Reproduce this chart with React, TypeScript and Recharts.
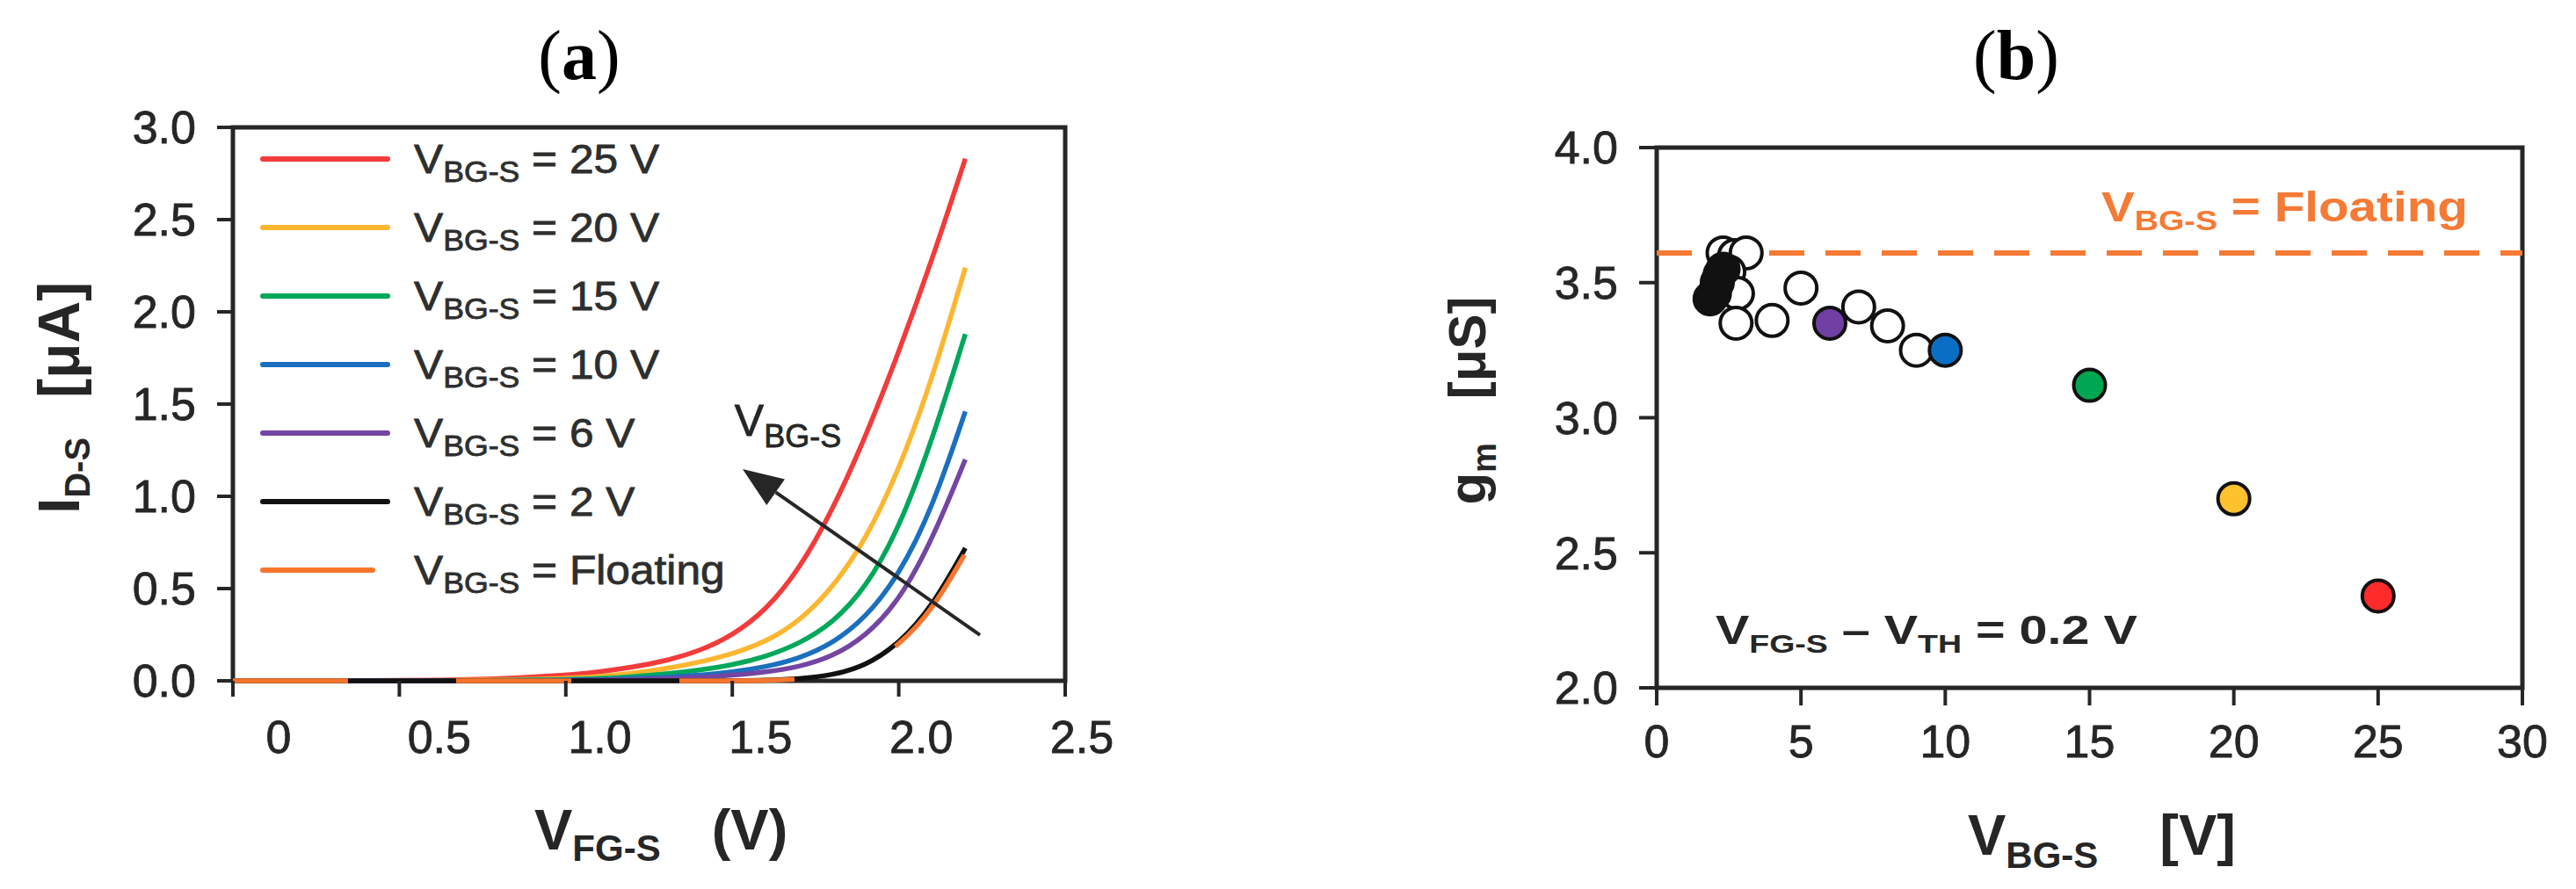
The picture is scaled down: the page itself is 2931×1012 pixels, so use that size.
import React from 'react';
import {
  LineChart,
  Line,
  XAxis,
  YAxis,
  ReferenceArea,
  ReferenceLine,
  ReferenceDot,
  Legend,
  ScatterChart,
  Scatter,
} from 'recharts';

const SANS = '"Liberation Sans", Arial, Helvetica, sans-serif';
const SERIF = '"Liberation Serif", "Times New Roman", serif';
const INK = '#262626';

// ---- panel (a): transfer curves, I_D-S vs V_FG-S ----
const vfg = [0, 0.2, 0.4, 0.6, 0.8, 1.0, 1.1, 1.2, 1.3, 1.4, 1.5, 1.6, 1.7, 1.8, 1.9, 2.0, 2.1, 2.2];
const ids25 = [0, 0, 0.001, 0.003, 0.01, 0.03, 0.048, 0.073, 0.108, 0.16, 0.245, 0.38, 0.6, 0.92, 1.32, 1.78, 2.28, 2.83];
const ids20 = [0, 0, 0, 0.001, 0.004, 0.012, 0.022, 0.04, 0.065, 0.1, 0.145, 0.21, 0.32, 0.5, 0.76, 1.14, 1.63, 2.24];
const ids15 = [0, 0, 0, 0, 0.002, 0.006, 0.012, 0.022, 0.037, 0.057, 0.085, 0.13, 0.2, 0.31, 0.5, 0.82, 1.3, 1.88];
const ids10 = [0, 0, 0, 0, 0.001, 0.003, 0.006, 0.011, 0.019, 0.03, 0.047, 0.075, 0.12, 0.2, 0.34, 0.57, 0.93, 1.46];
const ids6 = [0, 0, 0, 0, 0, 0.001, 0.003, 0.006, 0.011, 0.018, 0.03, 0.047, 0.075, 0.13, 0.24, 0.43, 0.76, 1.2];
const ids2 = [0, 0, 0, 0, 0, 0, 0, 0, 0, 0, 0, 0.002, 0.01, 0.03, 0.08, 0.2, 0.4, 0.72];
const idsFloat = [0, 0, 0, 0, 0, 0, 0, 0, 0, 0, 0, 0.001, 0.008, 0.026, 0.074, 0.19, 0.38, 0.69];

const curveKeys = ['b25', 'b20', 'b15', 'b10', 'b6', 'b2', 'bf'];
const curveNames = ['25 V', '20 V', '15 V', '10 V', '6 V', '2 V', 'Floating'];
const curveColors = ['#F23B3B', '#FDB630', '#00A85A', '#1B6FBF', '#7445A3', '#111111', '#F7762D'];
const curveValues = [ids25, ids20, ids15, ids10, ids6, ids2, idsFloat];

const xTicksA = [0, 0.5, 1, 1.5, 2, 2.5];
const yTicksA = [0, 0.5, 1, 1.5, 2, 2.5, 3];

// arrow "V_BG-S increases": tail -> head
const arrowA = [
  { x: 2.244, y: 0.248 },
  { x: 1.531, y: 1.148 },
];

// ---- panel (b): g_m vs V_BG-S ----
const openX = [2.3, 2.7, 3.1, 2.2, 2.5, 2.8, 2.75, 4.0, 5.0, 7.0, 8.0, 9.0];
const openY = [3.61, 3.6, 3.61, 3.53, 3.54, 3.46, 3.35, 3.36, 3.48, 3.41, 3.34, 3.25];
const blackX = [1.85, 2.0, 2.1, 2.3];
const blackY = [3.44, 3.46, 3.5, 3.55];
const colorX = [6, 10, 15, 20, 25];
const colorY = [3.35, 3.25, 3.12, 2.7, 2.34];
const pointColors = ['#6F3FA3', '#0A6FC4', '#00A651', '#FFC12E', '#FF2B2B'];
const gmFloating = 3.61;

const xTicksB = [0, 5, 10, 15, 20, 25, 30];
const yTicksB = [2, 2.5, 3, 3.5, 4];

const dataA = vfg.map((v, i) => {
  const row: Record<string, number> = { v };
  curveKeys.forEach((k, j) => {
    row[k] = curveValues[j][i];
  });
  return row;
});
const openPts = openX.map((x, i) => ({ x, y: openY[i] }));
const blackPts = blackX.map((x, i) => ({ x, y: blackY[i] }));
const colorPts = colorX.map((x, i) => ({ x, y: colorY[i] }));

type Part = [string, boolean?, number?];

function RichText({
  x,
  y,
  parts,
  size,
  subSize,
  subDy,
  weight = 'normal',
  fill = INK,
  scaleX = 1,
  rotate = 0,
  anchor = 'start',
}: {
  x: number;
  y: number;
  parts: Part[];
  size: number;
  subSize: number;
  subDy: number;
  weight?: string;
  fill?: string;
  scaleX?: number;
  rotate?: number;
  anchor?: 'start' | 'middle' | 'end';
}) {
  let down = false;
  const spans = parts.map(([t, isSub, dx], i) => {
    let dy = 0;
    if (isSub && !down) {
      dy = subDy;
      down = true;
    } else if (!isSub && down) {
      dy = -subDy;
      down = false;
    }
    return (
      <tspan key={i} dy={dy || undefined} dx={dx} fontSize={isSub ? subSize : size}>
        {t}
      </tspan>
    );
  });
  return (
    <g transform={`translate(${x},${y}) rotate(${rotate}) scale(${scaleX},1)`}>
      <text
        x={0}
        y={0}
        fontFamily={SANS}
        fontWeight={weight}
        fill={fill}
        stroke={weight === 'bold' ? 'none' : fill}
        strokeWidth={0.8}
        textAnchor={anchor}
        style={{ whiteSpace: 'pre' }}
      >
        {spans}
      </text>
    </g>
  );
}

function ArrowShape(props: any) {
  const { x1, y1, x2, y2 } = props;
  const dx = x2 - x1;
  const dy = y2 - y1;
  const len = Math.sqrt(dx * dx + dy * dy) || 1;
  const ux = dx / len;
  const uy = dy / len;
  const headL = 46;
  const headW = 18;
  const bx = x2 - ux * headL;
  const by = y2 - uy * headL;
  return (
    <g>
      <line x1={x1} y1={y1} x2={bx} y2={by} stroke={INK} strokeWidth={4} />
      <polygon
        points={`${x2},${y2} ${bx - uy * headW},${by + ux * headW} ${bx + uy * headW},${by - ux * headW}`}
        fill={INK}
      />
    </g>
  );
}

function LegendA({ payload }: any) {
  const items = [...(payload || [])].sort(
    (a: any, b: any) => curveNames.indexOf(a.value) - curveNames.indexOf(b.value),
  );
  return (
    <div style={{ fontFamily: SANS, color: '#2e2e2e', lineHeight: 1, WebkitTextStroke: '0.8px #2e2e2e' }}>
      {items.map((e: any) => (
        <div key={e.value} style={{ display: 'flex', alignItems: 'center', height: 78 }}>
          <div style={{ width: 175, display: 'flex', alignItems: 'center' }}>
            <div
              style={{
                width: e.value === 'Floating' ? 131 : 148,
                height: 6,
                borderRadius: 3,
                background: e.color,
              }}
            />
          </div>
          <span
            style={{
              fontSize: 46,
              whiteSpace: 'pre',
              display: 'inline-block',
              transform: 'scaleX(1.08)',
              transformOrigin: 'left center',
            }}
          >
            V
            <span style={{ fontSize: 33, position: 'relative', top: 10 }}>BG-S</span>
            {' = ' + e.value}
          </span>
        </div>
      ))}
    </div>
  );
}

const tickXA = (props: any) => {
  const { x, y, payload } = props;
  const v = payload.value as number;
  return (
    <text
      x={x + 52 - 13.2 * v}
      y={y}
      dy="0.71em"
      textAnchor="middle"
      fontSize={52}
      fill={INK}
      stroke={INK}
      strokeWidth={0.8}
      fontFamily={SANS}
    >
      {v === 0 ? '0' : v.toFixed(1)}
    </text>
  );
};

const tickStyle = { fontSize: 52, fill: INK, stroke: INK, strokeWidth: 0.8, fontFamily: SANS };

function ChartA() {
  return (
    <LineChart width={1300} height={1012} data={dataA} margin={{ top: 145, right: 88, bottom: 157, left: 165 }}>
      <ReferenceArea x1={0} x2={2.5} y1={0} y2={3} fill="none" stroke={INK} strokeWidth={5} ifOverflow="visible" />
      <XAxis
        dataKey="v"
        type="number"
        domain={[0, 2.5]}
        ticks={xTicksA}
        height={80}
        axisLine={false}
        tickLine={{ stroke: INK, strokeWidth: 4 }}
        tickSize={18}
        tickMargin={27}
        tick={tickXA}
        label={() => (
          <RichText
            x={608}
            y={967}
            parts={[['V'], ['FG-S', true], ['(V)', false, 58]]}
            size={65}
            subSize={42}
            subDy={13}
            weight="bold"
          />
        )}
      />
      <YAxis
        type="number"
        domain={[0, 3]}
        ticks={yTicksA}
        width={100}
        axisLine={false}
        tickLine={{ stroke: INK, strokeWidth: 4 }}
        tickSize={18}
        tickMargin={24}
        tick={tickStyle}
        tickFormatter={(v: number) => v.toFixed(1)}
        label={() => (
          <RichText
            x={90}
            y={453}
            rotate={-90}
            anchor="middle"
            parts={[['I'], ['D-S', true], ['[μA]', false, 45]]}
            size={66}
            subSize={40}
            subDy={12}
            weight="bold"
          />
        )}
      />
      <Legend
        layout="vertical"
        align="center"
        verticalAlign="middle"
        content={<LegendA />}
        wrapperStyle={{ position: 'absolute', left: 296, top: 142, width: 560, height: 546 }}
      />
      {curveKeys.map((k, i) => (
        <Line
          key={k}
          dataKey={k}
          name={curveNames[i]}
          type="basis"
          stroke={curveColors[i]}
          strokeWidth={5.5}
          strokeDasharray={k === 'bf' ? '131 123' : undefined}
          dot={false}
          activeDot={false}
          isAnimationActive={false}
        />
      ))}
      <ReferenceLine segment={arrowA} shape={ArrowShape} ifOverflow="visible" />
      <ReferenceDot
        x={1.507}
        y={1.329}
        ifOverflow="visible"
        shape={(p: any) => (
          <RichText x={p.cx} y={p.cy} parts={[['V'], ['BG-S', true]]} size={50} subSize={36} subDy={13} />
        )}
      />
    </LineChart>
  );
}

const dotShape = (fill: string) => (p: any) =>
  <circle cx={p.cx} cy={p.cy} r={18} fill={fill} stroke="#111" strokeWidth={4} />;

function ChartB() {
  return (
    <ScatterChart width={1531} height={1012} margin={{ top: 168, right: 61, bottom: 149, left: 385 }}>
      <ReferenceArea x1={0} x2={30} y1={2} y2={4} fill="none" stroke={INK} strokeWidth={5} ifOverflow="visible" />
      <XAxis
        dataKey="x"
        type="number"
        domain={[0, 30]}
        ticks={xTicksB}
        height={80}
        axisLine={false}
        tickLine={{ stroke: INK, strokeWidth: 4 }}
        tickSize={20}
        tickMargin={22}
        tick={tickStyle}
        label={() => (
          <RichText
            x={2239 - 1400}
            y={973}
            parts={[['V'], ['BG-S', true], ['[V]', false, 70]]}
            size={65}
            subSize={42}
            subDy={15}
            weight="bold"
          />
        )}
      />
      <YAxis
        dataKey="y"
        type="number"
        domain={[2, 4]}
        ticks={yTicksB}
        width={100}
        axisLine={false}
        tickLine={{ stroke: INK, strokeWidth: 4 }}
        tickSize={20}
        tickMargin={24}
        tick={tickStyle}
        tickFormatter={(v: number) => v.toFixed(1)}
        label={() => (
          <RichText
            x={1690 - 1400}
            y={456}
            rotate={-90}
            anchor="middle"
            parts={[['g'], ['m', true], ['[μS]', false, 50]]}
            size={60}
            subSize={38}
            subDy={12}
            weight="bold"
          />
        )}
      />
      <ReferenceLine y={gmFloating} stroke="#F47A35" strokeWidth={6} strokeDasharray="40 24" />
      <ReferenceDot
        x={15.41}
        y={3.727}
        ifOverflow="visible"
        shape={(p: any) => (
          <RichText
            x={p.cx}
            y={p.cy}
            parts={[['V'], ['BG-S', true], [' = Floating']]}
            size={48}
            subSize={32}
            subDy={10}
            weight="bold"
            fill="#F47A35"
            scaleX={1.18}
          />
        )}
      />
      <ReferenceDot
        x={2.04}
        y={2.163}
        ifOverflow="visible"
        shape={(p: any) => (
          <RichText
            x={p.cx}
            y={p.cy}
            parts={[['V'], ['FG-S', true], [' – V'], ['TH', true], [' = 0.2 V']]}
            size={46}
            subSize={30}
            subDy={10}
            weight="bold"
            scaleX={1.25}
          />
        )}
      />
      <Scatter data={openPts} shape={dotShape('#fff')} isAnimationActive={false} />
      <Scatter data={blackPts} shape={dotShape('#111')} isAnimationActive={false} />
      {colorPts.map((pt, i) => (
        <Scatter key={i} data={[pt]} shape={dotShape(pointColors[i])} isAnimationActive={false} />
      ))}
    </ScatterChart>
  );
}

export default function App() {
  return (
    <div
      style={{
        position: 'absolute',
        left: 0,
        top: 0,
        width: 2931,
        height: 1012,
        background: '#fff',
        fontFamily: SANS,
        overflow: 'hidden',
      }}
    >
      <svg width={2931} height={1012} style={{ position: 'absolute', left: 0, top: 0 }}>
        <text x={659} y={90} textAnchor="middle" fontFamily={SERIF} fontSize={80} fill="#000">
          (<tspan fontWeight="bold">a</tspan>)
        </text>
        <text x={2294} y={90} textAnchor="middle" fontFamily={SERIF} fontSize={80} fill="#000">
          (<tspan fontWeight="bold">b</tspan>)
        </text>
      </svg>
      <div style={{ position: 'absolute', left: 0, top: 0 }}>
        <ChartA />
      </div>
      <div style={{ position: 'absolute', left: 1400, top: 0 }}>
        <ChartB />
      </div>
    </div>
  );
}
